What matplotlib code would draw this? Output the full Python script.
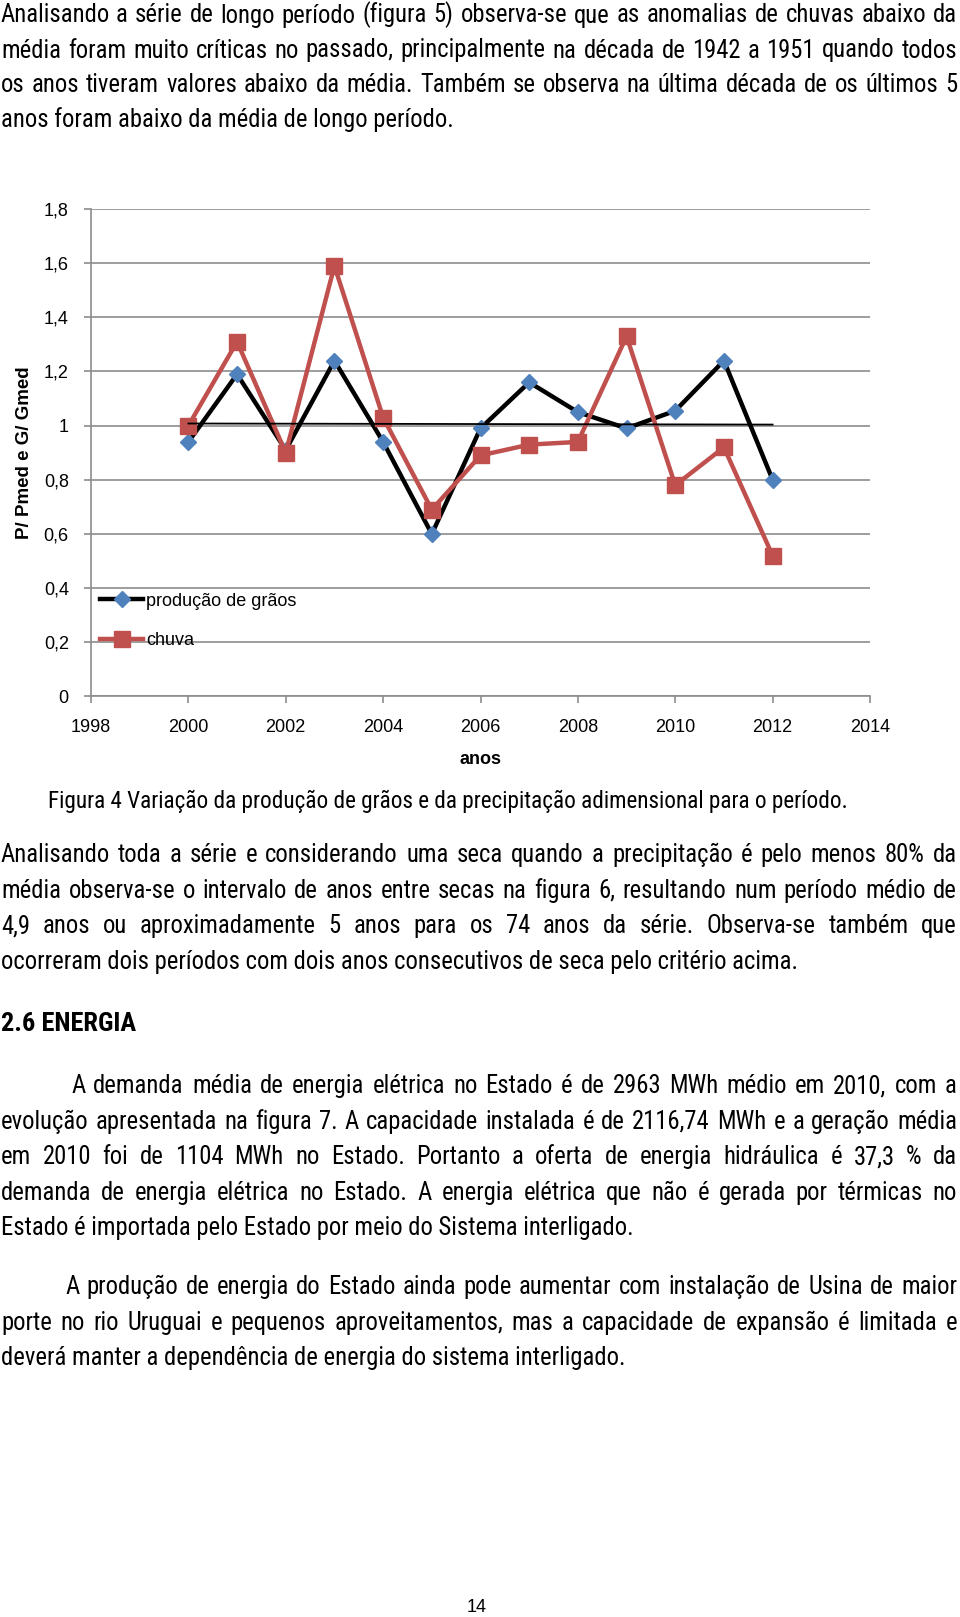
"""
Page with grain production / rainfall ratio chart (Figura 4).
"""

import matplotlib

matplotlib.use("Agg")
import matplotlib.pyplot as plt
from matplotlib import font_manager as fm
from matplotlib.lines import Line2D

W, H = 960, 1617
CHART_FONT = ["Liberation Sans", "DejaVu Sans"]

years = [2000, 2001, 2002, 2003, 2004, 2005, 2006, 2007, 2008, 2009, 2010, 2011, 2012]
graos = [0.94, 1.19, 0.91, 1.24, 0.94, 0.60, 0.99, 1.16, 1.05, 0.99, 1.055, 1.24, 0.80]
chuva = [1.00, 1.31, 0.90, 1.59, 1.03, 0.69, 0.89, 0.93, 0.94, 1.33, 0.78, 0.92, 0.52]
media_years = [2000, 2012]
media = [1.008, 1.004]

xticks = [1998, 2000, 2002, 2004, 2006, 2008, 2010, 2012, 2014]
yticks = [0, 0.2, 0.4, 0.6, 0.8, 1.0, 1.2, 1.4, 1.6, 1.8]
ytick_labels = ["0", "0,2", "0,4", "0,6", "0,8", "1", "1,2", "1,4", "1,6", "1,8"]

para1 = [
    "Analisando a série de longo período (figura 5) observa-se que as anomalias de chuvas abaixo da",
    "média foram muito críticas no passado, principalmente na década de 1942 a 1951 quando todos",
    "os anos tiveram valores abaixo da média. Também se observa na última década de os últimos 5",
    "anos foram abaixo da média de longo período.",
]
caption = "Figura 4 Variação da produção de grãos e da precipitação adimensional para o período."
para2 = [
    "Analisando toda a série e considerando uma seca quando a precipitação é pelo menos 80% da",
    "média observa-se o intervalo de anos entre secas na figura 6, resultando num período médio de",
    "4,9 anos ou aproximadamente 5 anos para os 74 anos da série. Observa-se também que",
    "ocorreram dois períodos com dois anos consecutivos de seca pelo critério acima.",
]
heading = "2.6 ENERGIA"
para3 = [
    "A demanda média de energia elétrica no Estado é de 2963 MWh médio em 2010, com a",
    "evolução apresentada na figura 7. A capacidade instalada é de 2116,74 MWh e a geração média",
    "em 2010 foi de 1104 MWh no Estado. Portanto a oferta de energia hidráulica é 37,3 % da",
    "demanda de energia elétrica no Estado.  A energia elétrica que não é gerada por térmicas no",
    "Estado é importada pelo Estado por meio do Sistema interligado.",
]
para4 = [
    "A produção de energia do Estado ainda pode aumentar com instalação de Usina de maior",
    "porte no rio Uruguai e pequenos aproveitamentos, mas a capacidade de expansão é limitada e",
    "deverá manter a dependência de energia do sistema interligado.",
]


def pick_body_font():
    # prefer a narrow sans, the scanned page uses a condensed Helvetica
    for fam in ["Liberation Sans Narrow", "Roboto Condensed", "Open Sans Condensed"]:
        try:
            fm.findfont(fm.FontProperties(family=fam), fallback_to_default=False)
            return fm.FontProperties(family=fam)
        except ValueError:
            pass
    for fam in ["DejaVu Sans", "Roboto", "Open Sans"]:
        fp = fm.FontProperties(family=fam, stretch="condensed")
        path = fm.findfont(fp)
        if "ondensed" in path or "arrow" in path:
            return fp
    return fm.FontProperties(family="Liberation Sans")


fig = plt.figure(figsize=(W / 100, H / 100), dpi=100)
renderer = fig.canvas.get_renderer()


def fit_size(fp, text, target_px):
    # font size that makes `text` target_px wide
    fp = fp.copy()
    fp.set_size(15)
    probe = fig.text(0, 0, text, fontproperties=fp)
    width = probe.get_window_extent(renderer).width
    probe.remove()
    fp.set_size(15 * target_px / width)
    return fp


base = pick_body_font()
body = fit_size(base, para2[-1], 796)
cap_fp = fit_size(base, caption, 802)
bold = base.copy()
bold.set_weight("bold")
head_fp = fit_size(bold, heading, 136)


def put(x, y, s, fp=body):
    # x, y in page pixels (y from top, baseline)
    return fig.text(x / W, 1 - y / H, s, va="baseline", ha="left", fontproperties=fp)


def paragraph(lines, y0, step=35.6, indent=0, x1=957):
    for i, line in enumerate(lines):
        x0 = indent if i == 0 else 1
        y = y0 + i * step + 7
        if i == len(lines) - 1:
            put(x0, y, line)
            continue
        words = line.split()
        texts = [put(x0, y, w) for w in words]
        widths = [t.get_window_extent(renderer).width for t in texts]
        gap = (x1 - x0 - sum(widths)) / (len(words) - 1)
        x = x0
        for t, w in zip(texts, widths):
            t.set_x(x / W)
            x += w + gap


paragraph(para1, 15.5, step=35.0)
put(48, 801 + 7, caption, fp=cap_fp)
paragraph(para2, 855, step=35.6)
put(1, 1024 + 7, heading, fp=head_fp)
paragraph(para3, 1086, step=35.6, indent=71)
paragraph(para4, 1287, step=35.6, indent=65)
fig.text(477 / W, 1 - 1607 / H, "14", ha="center", va="center",
         family=CHART_FONT, fontsize=13)

# chart
left, right, top, bottom = 91, 870, 209, 696.5
ax = fig.add_axes([left / W, 1 - bottom / H, (right - left) / W, (bottom - top) / H])

grid_c = "#8c8c8c"
ax.plot(years, graos, color="black", lw=3.2, marker="D", ms=8,
        mfc="#4F81BD", mec="#4F81BD", zorder=3)
ax.plot(years, chuva, color="#C0504D", lw=3.2, marker="s", ms=11,
        mfc="#C0504D", mec="#C0504D", zorder=4)
ax.plot(media_years, media, color="black", lw=1.3, zorder=5)

ax.set_xlim(1998, 2014)
ax.set_ylim(0, 1.8)
ax.set_xticks(xticks)
ax.set_xticklabels([str(t) for t in xticks])
ax.set_yticks(yticks)
ax.set_yticklabels(ytick_labels)
ax.grid(axis="y", color=grid_c, lw=1.2)
ax.set_axisbelow(True)
for side in ["top", "right"]:
    ax.spines[side].set_visible(False)
for side in ["left", "bottom"]:
    ax.spines[side].set_color(grid_c)
    ax.spines[side].set_linewidth(1.2)
ax.tick_params(axis="both", colors=grid_c, width=1.2, length=5,
               labelcolor="black", labelsize=13)
ax.tick_params(axis="x", pad=11)
ax.tick_params(axis="y", pad=11)
for lab in ax.get_xticklabels() + ax.get_yticklabels():
    lab.set_family(CHART_FONT)

ax.set_xlabel("anos", family=CHART_FONT, fontsize=13, weight="bold")
ax.xaxis.set_label_coords(0.5, -0.13)
ax.xaxis.label.set_va("center")
ax.set_ylabel("P/ Pmed e G/ Gmed", family=CHART_FONT, fontsize=13.5, weight="bold")
ax.yaxis.set_label_coords(-0.085, 0.5)
ax.yaxis.label.set_va("center")

handles = [
    Line2D([], [], color="black", lw=3.2, marker="D", ms=8, mfc="#4F81BD", mec="#4F81BD"),
    Line2D([], [], color="#C0504D", lw=3.2, marker="s", ms=11, mfc="#C0504D", mec="#C0504D"),
]
ax.legend(handles, ["produção de grãos", "chuva"], loc="center left",
          bbox_to_anchor=(0.0, 0.155), frameon=False, borderpad=0,
          handlelength=2.4, handletextpad=0.15, labelspacing=1.25,
          prop={"family": CHART_FONT, "size": 13})

fig.savefig("out.png", dpi=100)
